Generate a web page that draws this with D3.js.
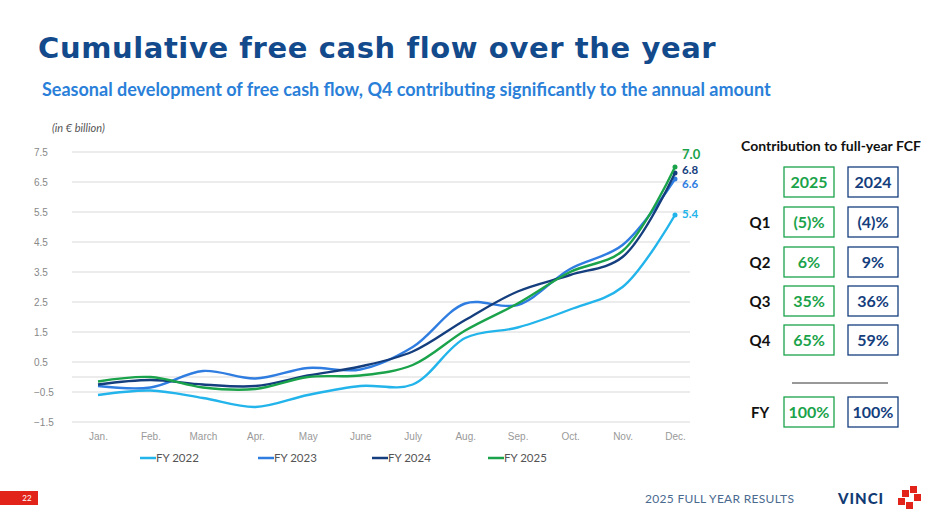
<!DOCTYPE html><html><head><meta charset="utf-8"><script src="https://cdn.jsdelivr.net/npm/d3@7"></script>
<style>body{margin:0;background:#fff}svg{font-family:Lato,"Open Sans",sans-serif}</style></head><body><svg id="c" width="945" height="532"></svg>
<script>
const months=["Jan.","Feb.","March","Apr.","May","June","July","Aug.","Sep.","Oct.","Nov.","Dec."];
const yTicks=[7.5,6.5,5.5,4.5,3.5,2.5,1.5,0.5,-0.5,-1.5];
const fy2022=[-0.6,-0.45,-0.7,-1.0,-0.6,-0.3,-0.25,1.3,1.65,2.25,3.0,5.4];
const fy2023=[-0.3,-0.35,0.2,-0.05,0.3,0.25,1.0,2.45,2.4,3.6,4.4,6.6];
const fy2024=[-0.25,-0.1,-0.25,-0.3,0.05,0.35,0.85,1.9,2.85,3.4,4.0,6.8];
const fy2025=[-0.15,0.0,-0.35,-0.4,0.0,0.05,0.4,1.55,2.45,3.5,4.2,7.0];
const seriesNames=["FY 2022","FY 2023","FY 2024","FY 2025"];
const colors=["#22b4ea","#2f7de1","#143e7d","#1aa34a"];
const quarters=["Q1","Q2","Q3","Q4"];
const c2025=["(5)%","6%","35%","65%"], c2024=["(4)%","9%","36%","59%"];
const series=[fy2022,fy2023,fy2024,fy2025];
const svg=d3.select("#c");
svg.append("text").attr("x",38).attr("y",58).attr("font-size",29).attr("font-family","DejaVu Sans").attr("font-weight",700).attr("fill","#124a8c").attr("letter-spacing",0.6).text("Cumulative free cash flow over the year");
svg.append("text").attr("x",42).attr("y",96).attr("font-size",18).attr("font-weight",700).attr("fill","#2a7fd9").text("Seasonal development of free cash flow, Q4 contributing significantly to the annual amount");
svg.append("text").attr("x",52).attr("y",132).attr("font-size",11).attr("font-style","italic").attr("fill","#555").text("(in € billion)");
const x=d3.scalePoint().domain(months).range([98,675]);
const y=d3.scaleLinear().domain([-1.5,7.5]).range([422,152]);
const g=svg.append("g");
[...yTicks,0].forEach(t=>g.append("line").attr("x1",72).attr("x2",690).attr("y1",y(t)).attr("y2",y(t)).attr("stroke","#d9d9d9"));
const ya=svg.append("g").attr("transform","translate(62,0)").call(d3.axisLeft(y).tickValues(yTicks).tickSize(0).tickFormat(d3.format(".1f")));
ya.select(".domain").remove();ya.selectAll("text").attr("fill","#888").attr("font-size",10).attr("text-anchor","start").attr("x",-28);
const xa=svg.append("g").attr("transform","translate(0,430)").call(d3.axisBottom(x).tickSize(0));
xa.select(".domain").remove();xa.selectAll("text").attr("fill","#999").attr("font-size",10).attr("dy","0.71em");
const line=d3.line().x((d,i)=>x(months[i])).y(d=>y(d)).curve(d3.curveCatmullRom.alpha(0.5));
series.forEach((s,k)=>{svg.append("path").attr("d",line(s)).attr("fill","none").attr("stroke",colors[k]).attr("stroke-width",2.4);
 svg.append("circle").attr("cx",x("Dec.")).attr("cy",y(s[11])).attr("r",2.5).attr("fill",colors[k]);});
const lab=[[5.4,0],[6.6,1],[6.8,2],[7.0,3]];const ly=[218,188,174,159];
lab.forEach(([v,k],i)=>svg.append("text").attr("x",682).attr("y",ly[i]).attr("font-size",k==3?13:11.5).attr("font-weight",700).attr("fill",colors[k]).text(v.toFixed(1)));
const lx=[140,258,372,488];
seriesNames.forEach((n,k)=>{svg.append("line").attr("x1",lx[k]).attr("x2",lx[k]+16).attr("y1",458).attr("y2",458).attr("stroke",colors[k]).attr("stroke-width",2.5);
 svg.append("text").attr("x",lx[k]+16).attr("y",462).attr("font-size",11.5).attr("fill","#555").text(n);});
svg.append("text").attr("x",831).attr("y",151).attr("text-anchor","middle").attr("font-size",14).attr("font-weight",700).attr("fill","#111").text("Contribution to full-year FCF");
function box(cx,cy,w,txt,col){svg.append("rect").attr("x",cx-w/2).attr("y",cy-15).attr("width",w).attr("height",30).attr("fill","#fff").attr("stroke",col).attr("stroke-width",1.3);
 svg.append("text").attr("x",cx).attr("y",cy+6).attr("text-anchor","middle").attr("font-size",16).attr("font-weight",700).attr("fill",col).text(txt);}
box(809,182,50,"2025",colors[3]);box(873,182,50,"2024",colors[2]);
const qy=[222,262,301,340];
quarters.forEach((q,i)=>{svg.append("text").attr("x",760).attr("y",qy[i]+6).attr("text-anchor","middle").attr("font-size",15).attr("font-weight",700).attr("fill","#111").text(q);
 box(809,qy[i],50,c2025[i],colors[3]);box(873,qy[i],50,c2024[i],colors[2]);});
svg.append("line").attr("x1",792).attr("x2",888).attr("y1",383).attr("y2",383).attr("stroke","#333");
svg.append("text").attr("x",760).attr("y",418).attr("text-anchor","middle").attr("font-size",15).attr("font-weight",700).attr("fill","#111").text("FY");
box(809,412,50,"100%",colors[3]);box(873,412,50,"100%",colors[2]);
svg.append("rect").attr("x",0).attr("y",491).attr("width",38).attr("height",14).attr("fill","#e2231a");
svg.append("text").attr("x",27).attr("y",501).attr("font-size",8).attr("fill","#fff").attr("text-anchor","middle").text("22");
svg.append("text").attr("x",645).attr("y",503).attr("font-size",12).attr("fill","#4a6a90").attr("letter-spacing",0.3).text("2025 FULL YEAR RESULTS");
svg.append("text").attr("x",838).attr("y",504).attr("font-size",15).attr("font-weight",900).attr("fill","#123b73").attr("letter-spacing",1).text("VINCI");
[[902,490],[910,486],[898,498],[914,494],[906,502]].forEach(([a,b])=>svg.append("rect").attr("x",a).attr("y",b).attr("width",7).attr("height",7).attr("fill","#e2231a"));
</script></body></html>
